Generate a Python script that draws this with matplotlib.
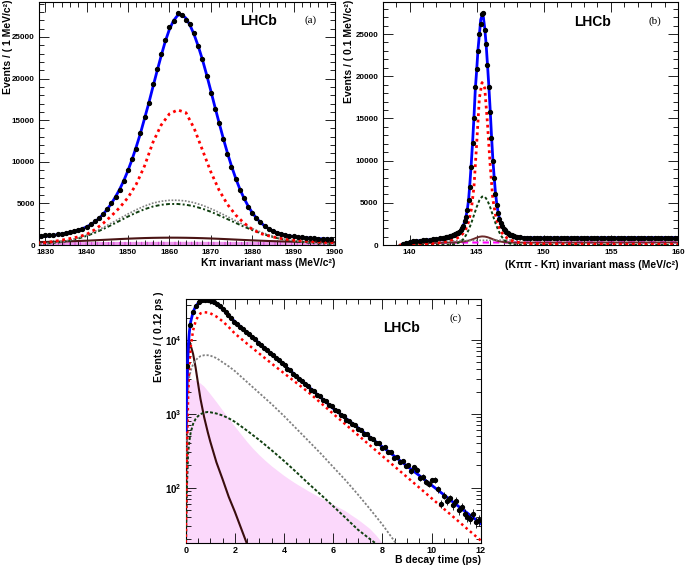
import numpy as np
import matplotlib
matplotlib.use("Agg")
import matplotlib.pyplot as plt
from matplotlib.ticker import MultipleLocator, LogLocator, FixedLocator, NullFormatter

plt.rcParams['font.family'] = ['Liberation Sans', 'DejaVu Sans']
plt.rcParams['font.weight'] = 'bold'
plt.rcParams['mathtext.fontset'] = 'custom'
plt.rcParams['mathtext.rm'] = 'Liberation Sans:bold'
plt.rcParams['mathtext.bf'] = 'Liberation Sans:bold'
plt.rcParams['hatch.linewidth'] = 0.6

# ---------------- panel (a) : K pi invariant mass ----------------
a_x = np.arange(1829, 1900)          # 1 MeV bins
a_data = [1120, 1150, 1190, 1230, 1290, 1350, 1430, 1530, 1650, 1800,
          1980, 2200, 2480, 2830, 3230, 3760, 4330, 5050, 5820, 6650,
          7700, 9050, 10300, 11550, 13450, 15350, 17050, 19300, 21100, 23000,
          24600, 26150, 26900, 27850, 27650, 27050, 26550, 25500, 23950, 22300,
          20300, 18300, 16300, 14700, 12700, 10950, 9400, 7950, 6600, 5600,
          4600, 3800, 3200, 2730, 2280, 1920, 1720, 1500, 1360, 1220,
          1100, 1030, 960, 910, 870, 830, 800, 775, 750, 730, 715]
a_total = [1000, 1050, 1110, 1170, 1240, 1320, 1410, 1510, 1630, 1780,
           1960, 2180, 2450, 2780, 3200, 3700, 4300, 5000, 5800, 6700,
           7750, 8950, 10300, 11800, 13400, 15200, 17000, 18950, 20850, 22700,
           24450, 25900, 26950, 27600, 27700, 27250, 26400, 25250, 23850, 22250,
           20450, 18550, 16600, 14700, 12850, 11100, 9500, 8050, 6750, 5650,
           4700, 3900, 3250, 2720, 2300, 1960, 1700, 1490, 1320, 1190,
           1090, 1010, 950, 900, 860, 820, 790, 760, 740, 720, 700]
a_cx = np.arange(1828, 1901, 2)
a_signal = [210, 290, 420, 590, 780, 980, 1280, 1850, 2600, 3500, 4500, 5700,
            7300, 9500, 12300, 14400, 15750, 16230, 15900, 14000, 11400, 8800,
            6600, 4900, 3610, 2650, 1900, 1380, 1100, 860, 690, 580, 500, 420,
            360, 310, 280]
a_gray = [130, 180, 270, 400, 600, 860, 1200, 1620, 2100, 2630, 3180, 3730,
          4240, 4680, 5030, 5260, 5370, 5380, 5290, 5080, 4770, 4370, 3910,
          3420, 2920, 2430, 1980, 1570, 1220, 930, 700, 520, 390, 290, 220, 160, 120]
a_green = [110, 160, 240, 360, 540, 780, 1090, 1470, 1910, 2400, 2910, 3420,
           3890, 4300, 4620, 4830, 4930, 4930, 4840, 4650, 4360, 4000, 3570,
           3120, 2660, 2210, 1800, 1430, 1110, 840, 630, 470, 350, 260, 190, 140, 110]
a_brown = [355, 370, 390, 415, 445, 480, 520, 565, 615, 665, 715, 760, 800,
           835, 860, 875, 882, 880, 868, 848, 820, 785, 745, 700, 652, 605, 560,
           518, 480, 447, 420, 398, 380, 366, 355, 347, 340]
a_magenta = [320, 325, 330, 335, 340, 345, 350, 355, 360, 364, 368, 372, 375,
             378, 380, 382, 383, 384, 384, 383, 382, 380, 378, 375, 372, 368,
             364, 360, 356, 352, 348, 344, 340, 336, 332, 328, 325]

# ---------------- panel (b) : delta mass ----------------
b_x = np.concatenate([np.arange(139.5, 142.3, 0.25),
                      np.arange(142.5, 148.05, 0.1),
                      np.arange(148.25, 160.01, 0.25)])
b_data = [80, 270, 360, 420, 470, 510, 560, 600, 640, 690, 730, 780,
          830, 860, 900, 930, 980,
          1030, 1080, 1150, 1200, 1280, 1380, 1480, 1600, 1780, 2000,
          2250, 2800, 3300, 4150, 5350, 6900, 9300, 12100, 15000, 18700,
          20900, 23000, 25000, 26200, 27400, 27450, 25500, 23800, 21300, 18700,
          15800, 12700, 10000, 7900, 6000, 4700, 3850, 3100, 2600, 2250,
          1950, 1750, 1560, 1400, 1300, 1210, 1150, 1090, 1030, 990,
          960,
          920, 890, 870, 860, 850, 845, 850, 840, 845, 850, 840, 848, 852, 845,
          850, 855, 845, 850, 858, 852, 860, 850, 855, 862, 858, 865, 855, 860,
          868, 862, 870, 860, 865, 872, 866, 875, 868, 870, 878, 872, 880, 874,
          876, 884, 878, 885, 880, 886]
b_total = [100, 230, 320, 390, 450, 500, 540, 580, 620, 660, 700, 750,
           800, 830, 860, 900, 940,
           990, 1040, 1100, 1160, 1230, 1320, 1420, 1530, 1700, 1950,
           2250, 2750, 3350, 4150, 5400, 7400, 9700, 12300, 15200, 18500,
           20700, 23200, 24900, 26700, 27200, 27000, 25700, 23900, 21500, 19000,
           16200, 13100, 10300, 8100, 6200, 4850, 3850, 3100, 2600, 2200,
           1930, 1700, 1520, 1380, 1280, 1200, 1130, 1070, 1020, 980,
           950,
           910, 880, 860, 850, 845, 842, 840, 840, 840, 841, 842, 843, 844, 845,
           846, 847, 848, 849, 850, 851, 852, 853, 854, 855, 856, 857, 858, 859,
           860, 861, 862, 863, 864, 865, 866, 867, 868, 869, 870, 871, 872, 873,
           874, 875, 876, 877, 878, 879]
b_cx = [139.25, 139.5, 139.75, 140, 140.5, 141, 141.5, 142, 142.5, 143,
        143.25, 143.5, 143.75, 144, 144.2, 144.4, 144.6, 144.8, 145.0, 145.2,
        145.4, 145.6, 145.8, 146.0, 146.2, 146.4, 146.6, 146.8, 147.0, 147.25,
        147.5, 147.75, 148, 148.5, 149, 150, 152, 154, 156, 158, 160]
b_signal = [0, 20, 50, 80, 110, 130, 150, 200, 340, 540,
            640, 790, 1000, 1400, 1930, 2760, 4200, 6900, 12000, 17400,
            19250, 18600, 14500, 9600, 5500, 3600, 2400, 1650, 1200, 840,
            600, 440, 340, 220, 170, 130, 110, 100, 95, 90, 90]
b_green = [0, 0, 0, 0, 0, 0, 0, 0, 5, 30,
           70, 160, 350, 690, 1150, 1780, 2600, 3550, 4500, 5290,
           5740, 5740, 5290, 4500, 3550, 2600, 1780, 1150, 690, 340,
           160, 70, 30, 5, 0, 0, 0, 0, 0, 0, 0]
b_gray = [0, 30, 120, 180, 260, 320, 370, 410, 440, 470,
          485, 500, 510, 520, 525, 530, 535, 540, 545, 550,
          555, 558, 562, 565, 568, 571, 574, 577, 580, 583,
          586, 589, 592, 596, 600, 605, 612, 618, 623, 628, 632]
b_brown = [0, 40, 100, 140, 190, 220, 240, 255, 270, 290,
           305, 325, 355, 400, 450, 520, 620, 740, 870, 970,
           1020, 1000, 930, 820, 690, 570, 470, 400, 350, 315,
           300, 292, 288, 285, 285, 287, 290, 293, 296, 299, 302]
b_magenta = [0, 40, 120, 170, 220, 250, 265, 275, 282, 287,
             289, 290, 291, 292, 292, 293, 293, 294, 294, 295,
             295, 296, 296, 297, 297, 298, 298, 299, 299, 300,
             300, 301, 301, 302, 303, 304, 306, 308, 310, 312, 314]

# ---------------- panel (c) : decay time ----------------
c_x = np.arange(100) * 0.12 + 0.06   # 0.12 ps bins
c_data = [4400, 15800, 24300, 29300, 32500, 34400, 35200, 34600, 33500, 32400,
          30500, 28600, 26100, 24100, 21600, 19900, 17800, 16700, 15100, 14200,
          12800, 12100, 10900, 10250, 9250, 8700, 7850, 7400, 6700, 6300,
          5700, 5350, 4850, 4550, 4100, 3880, 3480, 3300, 2950, 2800,
          2520, 2380, 2130, 2030, 1820, 1730, 1540, 1480, 1300, 1260,
          1110, 1080, 970, 940, 830, 810, 720, 705, 620, 610,
          540, 530, 465, 460, 400, 400, 345, 350, 300, 300,
          255, 262, 225, 228, 196, 200, 168, 188, 175, 135,
          140, 118, 112, 125, 128, 95, 60, 78, 66, 72,
          58, 66, 50, 55, 44, 40, 38, 44, 34, 36]
c_cx = [0, 0.05, 0.1, 0.15, 0.2, 0.3, 0.4, 0.5, 0.6, 0.75, 0.9, 1.0, 1.25,
        1.5, 1.75, 2.0, 2.5, 3.0, 3.5, 4.0, 4.5, 5.0, 5.5, 6.0, 6.5, 7.0,
        7.5, 8.0, 8.5, 9.0, 9.5, 10.0, 10.5, 11.0, 11.5, 12.0]
c_total = [600, 3000, 8000, 13000, 17500, 24000, 28500, 31500, 33500, 34800,
           34600, 33900, 30900, 26300, 21600, 17700, 12600, 9000, 6410, 4570,
           3260, 2320, 1660, 1183, 877, 650, 482, 357, 265, 196, 146, 108, 80,
           59, 44, 32.6]
c_signal = [15, 300, 1800, 4500, 8000, 13500, 17800, 21000, 23000, 23800,
            23600, 23070, 20800, 17990, 15000, 12250, 8910, 6530, 4790, 3550,
            2630, 1950, 1400, 1000, 719, 518, 372, 268, 193, 139, 100, 71.8,
            51.6, 37.2, 26.7, 19.2]
c_gray = [200, 1200, 2500, 3200, 3800, 4700, 5300, 5750, 6050, 6230, 6230,
          6150, 5700, 5000, 4400, 3800, 2690, 1905, 1350, 933, 631, 427, 288,
          190, 126, 81, 51, 31.6, 18.6, 10.7, 6, 3, 1.5, 0.7, 0.3, 0.1]
c_green = [10, 100, 300, 430, 550, 730, 850, 930, 990, 1040, 1060, 1050,
           1010, 950, 870, 780, 590, 440, 320, 230, 162, 113, 80, 56, 39, 27,
           20, 15, 10, 7, 5, 3.5, 2.4, 1.7, 1.2, 0.8]
c_brown = [30, 1500, 6500, 9500, 8500, 6500, 4300, 2600, 1600, 900, 560, 420,
           220, 130, 75, 47, 17, 6, 2, 0.7, 0.3, 0.1, 0.1, 0.1, 0.1, 0.1, 0.1,
           0.1, 0.1, 0.1, 0.1, 0.1, 0.1, 0.1, 0.1, 0.1]
c_pink_x = np.arange(0, 9.01, 0.25)
c_pink = [2800, 2900, 2750, 2350, 1860, 1450, 1120, 870, 676, 530, 417, 335,
          275, 230, 195, 168, 145, 127, 112, 100, 89, 80, 72, 65, 59, 53, 48,
          42, 37, 32, 27.5, 22.5, 17.8, 13.5, 10, 7, 5]

BLUE = '#0000ff'
RED = '#ff0000'
GRAY = '#808080'
GREEN = '#0f3f0f'
BROWN = '#4a1414'


def style(ax):
    ax.tick_params(which='both', direction='in', top=True, right=True,
                   width=0.6, labelsize=5.8, pad=3)
    ax.tick_params(which='major', length=7)
    ax.tick_params(which='minor', length=3.5)
    for sp in ax.spines.values():
        sp.set_linewidth(0.8)


def data_points(ax, x, y):
    y = np.asarray(y, dtype=float)
    ax.errorbar(x, y, yerr=np.sqrt(y), fmt='o', ms=2.8, color='k',
                elinewidth=0.6, capsize=0, zorder=10)


fig = plt.figure(figsize=(6.85, 5.69), dpi=100)

# ---- (a)
ax = fig.add_axes([0.0569, 0.5694, 0.4321, 0.4271])
ax.fill_between(a_cx, 0, a_magenta, facecolor='#ee99ee', edgecolor='#cc33cc',
                hatch='|||', linewidth=0, zorder=1)
ax.plot(a_cx, a_brown, color=BROWN, lw=1.5, zorder=3)
ax.plot(a_cx, a_green, color=GREEN, lw=1.4, ls=(0, (2, 1.2, 1, 1.2)), zorder=4)
ax.plot(a_cx, a_gray, color=GRAY, lw=1.2, ls=(0, (1, 1)), zorder=4)
ax.plot(a_cx, a_signal, color=RED, lw=2.0, ls=(0, (1, 1.3)), zorder=5)
ax.plot(a_x, a_total, color=BLUE, lw=2.0, zorder=6)
data_points(ax, a_x, a_data)
ax.set_xlim(1828.5, 1900)
ax.set_ylim(0, 29200)
ax.xaxis.set_major_locator(MultipleLocator(10))
ax.xaxis.set_minor_locator(MultipleLocator(2))
ax.yaxis.set_major_locator(MultipleLocator(5000))
ax.yaxis.set_minor_locator(MultipleLocator(1000))
style(ax)
ax.text(0.74, 0.922, 'LHCb', transform=ax.transAxes, ha='center', va='center',
        fontsize=10, fontweight='bold')
ax.text(0.916, 0.926, '(a)', transform=ax.transAxes, ha='center', va='center',
        fontsize=8, family='Liberation Serif', fontweight='normal')
ax.text(1.0, -0.074, 'K\u03c0 invariant mass (MeV/c\u00b2)', transform=ax.transAxes,
        ha='right', va='center', fontsize=7.5)
fig.text(8 / 685, 1.0, 'Events / ( 1 MeV/c\u00b2)', rotation=90, ha='center',
         va='top', fontsize=7.5)

# ---- (b)
ax = fig.add_axes([0.5587, 0.5694, 0.4311, 0.4271])
ax.plot(b_cx, b_magenta, color='#ff00ff', lw=1.5, ls=(0, (3, 2)), zorder=2)
ax.plot(b_cx, b_brown, color='#6b2a2a', lw=1.4, zorder=3)
ax.plot(b_cx, b_gray, color=GRAY, lw=1.2, ls=(0, (1, 1)), zorder=4)
ax.plot(b_cx, b_green, color=GREEN, lw=1.4, ls=(0, (1.5, 1.2)), zorder=4)
ax.plot(b_cx, b_signal, color=RED, lw=2.0, ls=(0, (1, 1.3)), zorder=5)
ax.plot(b_x, b_total, color=BLUE, lw=2.0, zorder=6)
data_points(ax, b_x, b_data)
ax.set_xlim(138, 160)
ax.set_ylim(0, 28800)
ax.xaxis.set_major_locator(MultipleLocator(5))
ax.xaxis.set_minor_locator(MultipleLocator(1))
ax.yaxis.set_major_locator(MultipleLocator(5000))
ax.yaxis.set_minor_locator(MultipleLocator(1000))
style(ax)
ax.text(0.709, 0.918, 'LHCb', transform=ax.transAxes, ha='center', va='center',
        fontsize=10, fontweight='bold')
ax.text(0.922, 0.922, '(b)', transform=ax.transAxes, ha='center', va='center',
        fontsize=8, family='Liberation Serif', fontweight='normal')
ax.text(1.0, -0.082, '(K\u03c0\u03c0 - K\u03c0) invariant mass (MeV/c\u00b2)',
        transform=ax.transAxes, ha='right', va='center', fontsize=7.5)
fig.text(349 / 685, 1.0, 'Events / ( 0.1 MeV/c\u00b2)', rotation=90, ha='center',
         va='top', fontsize=7.5)

# ---- (c)
ax = fig.add_axes([0.2711, 0.0452, 0.4307, 0.4293])
ax.set_yscale('log')
ax.fill_between(c_pink_x, 0.01, c_pink, facecolor='#fbd8fb', edgecolor='none',
                zorder=1)
ax.plot(c_cx, c_brown, color='#3a0d0d', lw=1.5, zorder=3)
ax.plot(c_cx, c_green, color=GREEN, lw=1.4, ls=(0, (1.5, 1)), zorder=4)
ax.plot(c_cx, c_gray, color=GRAY, lw=1.3, ls=(0, (1.2, 1)), zorder=4)
ax.plot(c_cx, c_signal, color=RED, lw=1.8, ls=(0, (1, 1.3)), zorder=5)
ax.plot(c_cx, c_total, color=BLUE, lw=2.0, zorder=6)
data_points(ax, c_x, c_data)
ax.set_xlim(0, 12)
ax.set_ylim(17.6, 36000)
ax.xaxis.set_major_locator(MultipleLocator(2))
ax.xaxis.set_minor_locator(MultipleLocator(0.5))
ax.yaxis.set_major_locator(FixedLocator([100, 1000, 10000]))
ax.yaxis.set_minor_locator(LogLocator(base=10, subs=np.arange(2, 10)))
ax.yaxis.set_minor_formatter(NullFormatter())
ax.set_yticklabels([r'$10^{2}$', r'$10^{3}$', r'$10^{4}$'])
style(ax)
ax.tick_params(axis='y', which='major', labelsize=7)
ax.tick_params(axis='x', which='major', labelsize=6.5, pad=2)
ax.text(0.733, 0.881, 'LHCb', transform=ax.transAxes, ha='center', va='center',
        fontsize=10, fontweight='bold')
ax.text(0.916, 0.922, '(c)', transform=ax.transAxes, ha='center', va='center',
        fontsize=8, family='Liberation Serif', fontweight='normal')
ax.text(1.0, -0.068, 'B decay time (ps)', transform=ax.transAxes,
        ha='right', va='center', fontsize=7.5)
fig.text(159 / 685, 1 - 292 / 569, 'Events / ( 0.12 ps )', rotation=90,
         ha='center', va='top', fontsize=7.5)

fig.savefig('out.png', dpi=100)
